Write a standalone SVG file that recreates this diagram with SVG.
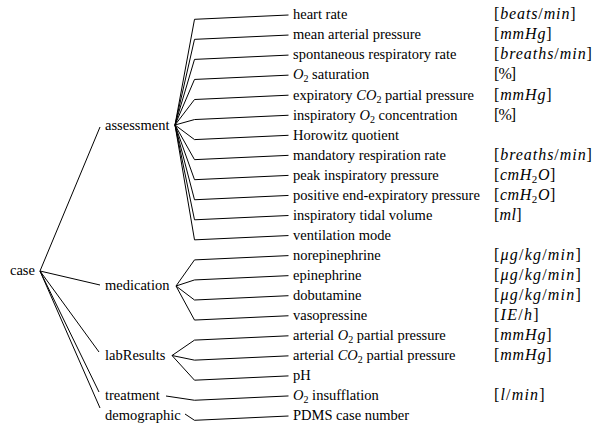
<svg xmlns="http://www.w3.org/2000/svg" width="593" height="424" viewBox="0 0 593 424">
<style>
text{font-family:"Liberation Serif","Times New Roman",serif;font-size:14.5px;fill:#000}
.u{font-size:16px}
.i{font-style:italic}
.s{font-size:10px}
.u .s{font-size:11px}
.e{fill:none;stroke:#000;stroke-width:1;stroke-linejoin:round}
</style>
<rect width="593" height="424" fill="#fff"/>
<g id="connectors" class="e">
<polyline points="40,271 100,127"/>
<polyline points="40,271 100,285"/>
<polyline points="40,271 99,352"/>
<polyline points="40,271 99,392"/>
<polyline points="40,271 100,408"/>
<polyline points="175,125 194.5,19.3 288.5,15"/>
<polyline points="175,125 194.5,39.35 288.5,35.05"/>
<polyline points="175,125 194.5,59.4 288.5,55.1"/>
<polyline points="175,125 194.5,79.45 288.5,75.15"/>
<polyline points="175,125 194.5,99.5 288.5,95.2"/>
<polyline points="175,125 194.5,119.55 288.5,115.25"/>
<polyline points="175,125 194.5,139.6 288.5,135.3"/>
<polyline points="175,125 194.5,159.65 288.5,155.35"/>
<polyline points="175,125 194.5,179.7 288.5,175.4"/>
<polyline points="175,125 194.5,199.75 288.5,195.45"/>
<polyline points="175,125 194.5,219.8 288.5,215.5"/>
<polyline points="175,125 194.5,239.85 288.5,235.55"/>
<polyline points="176,286 194.5,259.9 288.5,255.6"/>
<polyline points="176,286 194.5,279.95 288.5,275.65"/>
<polyline points="176,286 194.5,300 288.5,295.7"/>
<polyline points="176,286 194.5,320.05 288.5,315.75"/>
<polyline points="172,355.5 194.5,340.1 288.5,335.8"/>
<polyline points="172,355.5 194.5,360.15 288.5,355.85"/>
<polyline points="172,355.5 194.5,380.2 288.5,375.9"/>
<polyline points="166,396 194.5,400.25 288.5,395.95"/>
<polyline points="185,414 194.5,420.3 288.5,416"/>
</g>
<g id="case"><text x="10" y="275">case</text></g>
<g id="assessment"><text x="105" y="129.6">assessment</text></g>
<g id="medication"><text x="105" y="290">medication</text></g>
<g id="labResults"><text x="105" y="360.2">labResults</text></g>
<g id="treatment"><text x="105" y="400.3">treatment</text></g>
<g id="demographic"><text x="105" y="420.3">demographic</text></g>
<g id="heart-rate"><text x="293" y="19.3">heart rate</text><text class="u" x="494" y="19.3" textLength="81.6" lengthAdjust="spacing">[<tspan class="i">beats</tspan>/<tspan class="i">min</tspan>]</text></g>
<g id="mean-arterial-pressure"><text x="293" y="39.35">mean arterial pressure</text><text class="u" x="494" y="39.35" textLength="57.6" lengthAdjust="spacing">[<tspan class="i">mmHg</tspan>]</text></g>
<g id="spontaneous-respiratory-rate"><text x="293" y="59.4">spontaneous respiratory rate</text><text class="u" x="494" y="59.4" textLength="97.9" lengthAdjust="spacing">[<tspan class="i">breaths</tspan>/<tspan class="i">min</tspan>]</text></g>
<g id="o2-saturation"><text x="293" y="79.45"><tspan class="i">O</tspan><tspan class="s" dy="3">2</tspan><tspan dy="-3"> saturation</tspan></text><text class="u" x="494" y="79.45" textLength="22.1" lengthAdjust="spacing">[%]</text></g>
<g id="expiratory-co2"><text x="293" y="99.5">expiratory <tspan class="i">CO</tspan><tspan class="s" dy="3">2</tspan><tspan dy="-3"> partial pressure</tspan></text><text class="u" x="494" y="99.5" textLength="57.6" lengthAdjust="spacing">[<tspan class="i">mmHg</tspan>]</text></g>
<g id="inspiratory-o2"><text x="293" y="119.55">inspiratory <tspan class="i">O</tspan><tspan class="s" dy="3">2</tspan><tspan dy="-3"> concentration</tspan></text><text class="u" x="494" y="119.55" textLength="22.1" lengthAdjust="spacing">[%]</text></g>
<g id="horowitz"><text x="293" y="139.6">Horowitz quotient</text></g>
<g id="mandatory-rate"><text x="293" y="159.65">mandatory respiration rate</text><text class="u" x="494" y="159.65" textLength="97.9" lengthAdjust="spacing">[<tspan class="i">breaths</tspan>/<tspan class="i">min</tspan>]</text></g>
<g id="peak-pressure"><text x="293" y="179.7">peak inspiratory pressure</text><text class="u" x="494" y="179.7" textLength="61.4" lengthAdjust="spacing">[<tspan class="i">cmH</tspan><tspan class="s" dy="3">2</tspan><tspan class="i" dy="-3">O</tspan>]</text></g>
<g id="peep"><text x="293" y="199.75">positive end-expiratory pressure</text><text class="u" x="494" y="199.75" textLength="61.4" lengthAdjust="spacing">[<tspan class="i">cmH</tspan><tspan class="s" dy="3">2</tspan><tspan class="i" dy="-3">O</tspan>]</text></g>
<g id="tidal-volume"><text x="293" y="219.8">inspiratory tidal volume</text><text class="u" x="494" y="219.8" textLength="27.5" lengthAdjust="spacing">[<tspan class="i">ml</tspan>]</text></g>
<g id="ventilation-mode"><text x="293" y="239.85">ventilation mode</text></g>
<g id="norepinephrine"><text x="293" y="259.9">norepinephrine</text><text class="u" x="494" y="259.9" textLength="86.8" lengthAdjust="spacing">[<tspan class="i">μg</tspan>/<tspan class="i">kg</tspan>/<tspan class="i">min</tspan>]</text></g>
<g id="epinephrine"><text x="293" y="279.95">epinephrine</text><text class="u" x="494" y="279.95" textLength="86.8" lengthAdjust="spacing">[<tspan class="i">μg</tspan>/<tspan class="i">kg</tspan>/<tspan class="i">min</tspan>]</text></g>
<g id="dobutamine"><text x="293" y="300">dobutamine</text><text class="u" x="494" y="300" textLength="86.8" lengthAdjust="spacing">[<tspan class="i">μg</tspan>/<tspan class="i">kg</tspan>/<tspan class="i">min</tspan>]</text></g>
<g id="vasopressine"><text x="293" y="320.05">vasopressine</text><text class="u" x="494" y="320.05" textLength="44.7" lengthAdjust="spacing">[<tspan class="i">IE</tspan>/<tspan class="i">h</tspan>]</text></g>
<g id="arterial-o2"><text x="293" y="340.1">arterial <tspan class="i">O</tspan><tspan class="s" dy="3">2</tspan><tspan dy="-3"> partial pressure</tspan></text><text class="u" x="494" y="340.1" textLength="57.6" lengthAdjust="spacing">[<tspan class="i">mmHg</tspan>]</text></g>
<g id="arterial-co2"><text x="293" y="360.15">arterial <tspan class="i">CO</tspan><tspan class="s" dy="3">2</tspan><tspan dy="-3"> partial pressure</tspan></text><text class="u" x="494" y="360.15" textLength="57.6" lengthAdjust="spacing">[<tspan class="i">mmHg</tspan>]</text></g>
<g id="ph"><text x="293" y="380.2">pH</text></g>
<g id="o2-insufflation"><text x="293" y="400.25"><tspan class="i">O</tspan><tspan class="s" dy="3">2</tspan><tspan dy="-3"> insufflation</tspan></text><text class="u" x="494" y="400.25" textLength="50.5" lengthAdjust="spacing">[<tspan class="i">l</tspan>/<tspan class="i">min</tspan>]</text></g>
<g id="pdms"><text x="293" y="420.3">PDMS case number</text></g>
</svg>
